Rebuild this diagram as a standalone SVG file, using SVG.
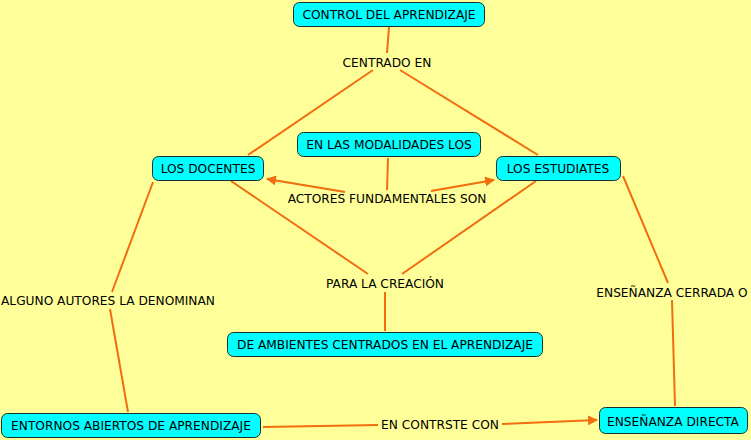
<svg xmlns="http://www.w3.org/2000/svg" width="751" height="440" viewBox="0 0 751 440">
<defs>
<marker id="ah" markerWidth="10" markerHeight="10" refX="9" refY="5" orient="auto" markerUnits="userSpaceOnUse">
<path d="M0,0 L10,5 L0,10 z" fill="#f26d0f"/>
</marker>
<style>
.n rect{fill:#00ffff;stroke:#1a3030;stroke-width:1;}
text{font-family:"DejaVu Sans",Verdana,sans-serif;font-size:12.2px;fill:#000;text-anchor:middle;}
.c line{stroke:#f26d0f;stroke-width:2;fill:none;}
</style>
</defs>
<rect width="751" height="440" fill="#ffff99"/>
<g class="c">
<line x1="389" y1="27" x2="387" y2="53"/>
<line x1="373" y1="70" x2="248" y2="155"/>
<line x1="400" y1="70" x2="538" y2="155"/>
<line x1="388" y1="158" x2="387" y2="190"/>
<line x1="345" y1="192" x2="267" y2="179" marker-end="url(#ah)"/>
<line x1="431" y1="191" x2="494" y2="180" marker-end="url(#ah)"/>
<line x1="231" y1="181" x2="368" y2="274"/>
<line x1="536" y1="181" x2="402" y2="274"/>
<line x1="385" y1="292" x2="385" y2="331"/>
<line x1="153" y1="182" x2="112" y2="292"/>
<line x1="110" y1="309" x2="128" y2="412"/>
<line x1="623" y1="176" x2="668" y2="283"/>
<line x1="672" y1="300" x2="675" y2="406"/>
<line x1="263" y1="427" x2="378" y2="425"/>
<line x1="502" y1="424" x2="597" y2="420" marker-end="url(#ah)"/>
</g>
<g id="n1" class="n"><rect x="293.5" y="2.5" width="191" height="24" rx="6"/><text x="389" y="18.5">CONTROL DEL APRENDIZAJE</text></g>
<g id="n2" class="n"><rect x="152.5" y="156.5" width="111" height="24" rx="6"/><text x="208" y="172.5">LOS DOCENTES</text></g>
<g id="n3" class="n"><rect x="297.5" y="132.5" width="183" height="24" rx="6"/><text x="389" y="148.5">EN LAS MODALIDADES LOS</text></g>
<g id="n4" class="n"><rect x="496.5" y="156.5" width="124" height="24" rx="6"/><text x="558" y="172.5">LOS ESTUDIATES</text></g>
<g id="n5" class="n"><rect x="227.5" y="332.5" width="315" height="24" rx="6"/><text x="385" y="348.5">DE AMBIENTES CENTRADOS EN EL APRENDIZAJE</text></g>
<g id="n6" class="n"><rect x="1.5" y="413.5" width="259" height="24" rx="6"/><text x="131" y="429.5">ENTORNOS ABIERTOS DE APRENDIZAJE</text></g>
<g id="n7" class="n"><rect x="599.5" y="407.5" width="148" height="26" rx="6"/><text x="673" y="425.5">ENSEÑANZA DIRECTA</text></g>
<g id="labels">
<text x="387" y="66.5">CENTRADO EN</text>
<text x="387" y="202.5">ACTORES FUNDAMENTALES SON</text>
<text x="385" y="287.5">PARA LA CREACIÓN</text>
<text x="108" y="304.5">ALGUNO AUTORES LA DENOMINAN</text>
<text x="672" y="296.5">ENSEÑANZA CERRADA O</text>
<text x="440" y="428.5">EN CONTRSTE CON</text>
</g>
</svg>
